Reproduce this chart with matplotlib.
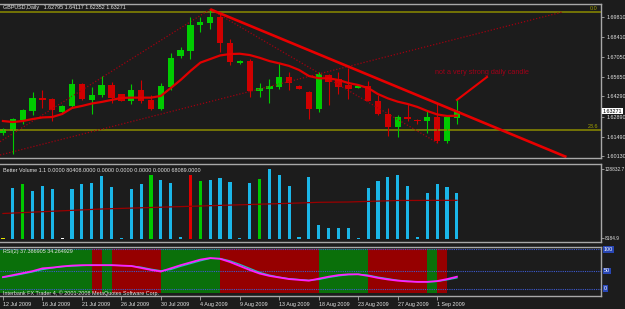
import numpy as np
import matplotlib
matplotlib.use("Agg")
import matplotlib.pyplot as plt

plt.rcParams['font.family'] = ['Liberation Sans', 'DejaVu Sans']

# ---- data (GBPUSD daily, 12 Jul - 3 Sep 2009) ----
date_labels = ["12 Jul 2009", "16 Jul 2009", "21 Jul 2009", "26 Jul 2009",
               "30 Jul 2009", "4 Aug 2009", "9 Aug 2009", "13 Aug 2009",
               "18 Aug 2009", "23 Aug 2009", "27 Aug 2009", "1 Sep 2009"]

opens = [1.6175, 1.6191, 1.6265, 1.6330, 1.6421, 1.6410, 1.6323, 1.6363, 1.6516, 1.6405,
         1.6437, 1.6507, 1.6444, 1.6398, 1.6474, 1.6405, 1.6342, 1.6493, 1.6711, 1.6748,
         1.6925, 1.6943, 1.6981, 1.6802, 1.6660, 1.6676, 1.6469, 1.6481, 1.6497, 1.6563,
         1.6502, 1.6462, 1.6342, 1.6577, 1.6549, 1.6506, 1.6490, 1.6502, 1.6400, 1.6305,
         1.6218, 1.6284, 1.6265, 1.6260, 1.6284, 1.6119, 1.62795]
highs = [1.6209, 1.6279, 1.6342, 1.6458, 1.6474, 1.6419, 1.6370, 1.6551, 1.6525, 1.6493,
         1.6574, 1.6532, 1.6446, 1.6514, 1.6544, 1.6440, 1.6521, 1.6730, 1.6776, 1.6981,
         1.6985, 1.7037, 1.7009, 1.6828, 1.6683, 1.6690, 1.6521, 1.6551, 1.6660, 1.6602,
         1.6506, 1.6467, 1.6602, 1.6586, 1.6602, 1.6626, 1.6516, 1.6539, 1.6440, 1.6351,
         1.6300, 1.6375, 1.6269, 1.6328, 1.6382, 1.6300, 1.64117]
lows = [1.6161, 1.6028, 1.6237, 1.6300, 1.6351, 1.6260, 1.6317, 1.6359, 1.6405, 1.6307,
        1.6428, 1.6384, 1.6398, 1.6377, 1.6386, 1.6335, 1.6338, 1.6474, 1.6695, 1.6688,
        1.6881, 1.6897, 1.6741, 1.6649, 1.6656, 1.6428, 1.6428, 1.6382, 1.6479, 1.6474,
        1.6481, 1.6270, 1.6323, 1.6370, 1.6447, 1.6411, 1.6485, 1.6398, 1.6300, 1.6156,
        1.6149, 1.6260, 1.6237, 1.6177, 1.6107, 1.6107, 1.62352]
closes = [1.6199, 1.6272, 1.6335, 1.6416, 1.6405, 1.6335, 1.6363, 1.6516, 1.6410, 1.6440,
          1.6507, 1.6416, 1.6401, 1.6474, 1.6398, 1.6342, 1.6502, 1.6699, 1.6753, 1.6927,
          1.6948, 1.6985, 1.6800, 1.6672, 1.6676, 1.6467, 1.6486, 1.6502, 1.6563, 1.6521,
          1.6483, 1.6342, 1.6586, 1.6532, 1.6493, 1.6479, 1.6502, 1.6400, 1.6305, 1.6218,
          1.6284, 1.6270, 1.6256, 1.6284, 1.6119, 1.6284, 1.63271]
ma_price = [1.6258, 1.6251, 1.6258, 1.6272, 1.6283, 1.6286, 1.6307, 1.6349, 1.6363, 1.6380,
            1.6391, 1.6405, 1.6419, 1.6421, 1.6421, 1.6421, 1.6433, 1.6488, 1.6544, 1.6607,
            1.6665, 1.6690, 1.6715, 1.6725, 1.6727, 1.6718, 1.6699, 1.6676, 1.6660, 1.6642,
            1.6614, 1.6572, 1.6556, 1.6556, 1.6544, 1.6523, 1.6509, 1.6488, 1.6446, 1.6416,
            1.6393, 1.6377, 1.6356, 1.6328, 1.6304, 1.6293, 1.6295]

price_ticks = [1.69810, 1.68410, 1.67050, 1.65650, 1.64290, 1.62890, 1.61490, 1.60130]
fib_levels = [1.7018, 1.6196]
fib_names = ["0.0", "23.6"]

# trend line, arrow and dotted channel lines: (bar, price) end points
trend_line = ([21, 57.1], [1.7037, 1.6007])
arrow_line = ([46, 49.05], [1.6405, 1.6565])
dotted_lines = [([-0.3, 21], [1.6114, 1.7037]),
                ([21, 44], [1.7037, 1.6107]),
                ([-0.3, 56.7], [1.6021, 1.7018])]

volume = [2290, 89230, 96800, 84480, 93280, 88000, 2290, 88000, 96800, 98030,
          110880, 92050, 2290, 88000, 96800, 112640, 103840, 99090, 4050, 112640,
          102080, 103840, 107890, 99790, 2290, 98030, 105070, 122670, 112640, 93280,
          2990, 109650, 24640, 19890, 18830, 18830, 2290, 90290, 102610, 108590,
          112640, 93280, 4050, 81490, 96800, 90990, 80408]
vol_kind = ['y', 'c', 'g', 'c', 'c', 'c', 'w', 'c', 'c', 'c',
            'c', 'c', 'c', 'c', 'c', 'g', 'c', 'c', 'c', 'r',
            'g', 'c', 'c', 'c', 'c', 'c', 'g', 'c', 'c', 'c',
            'c', 'c', 'c', 'c', 'c', 'c', 'c', 'c', 'c', 'c',
            'c', 'c', 'c', 'c', 'c', 'c', 'c']
vol_ma_bars = [0, 10, 15, 20, 25, 30, 32, 35, 40, 46]
vol_ma = [44880, 52800, 55440, 58080, 60720, 63360, 64590, 65120, 67760, 68089]

rsi_main = [30, 35, 40, 45, 52, 54, 57, 59, 60, 60, 60, 60, 59, 58, 53, 48, 44, 52, 60, 67,
            74, 78, 76, 68, 58, 48, 39, 33, 29, 25, 23, 21, 26, 31, 35, 37, 37, 33, 28, 24,
            21, 19, 18, 18, 20, 25, 31]
rsi_signal = [29, 33, 38, 43, 49, 53, 56, 58, 59, 60, 60, 60, 59, 58, 55, 50, 46, 49, 57, 64,
              71, 77, 77, 71, 62, 52, 42, 35, 30, 26, 24, 22, 24, 29, 33, 36, 37, 35, 30, 26,
              22, 20, 18, 18, 19, 23, 28]
# zone colour between bar i and bar i+1
rsi_zone = (['g'] * 9 + ['r'] + ['g'] + ['r'] * 5 + ['g'] * 6 + ['r'] * 10 +
            ['g'] * 5 + ['r'] * 6 + ['g'] + ['r'])
rsi_levels = [100, 46, 0]

# ---- style ----
BG = '#1c1c1c'
FG = '#e4e4e4'
GRID = '#a8a8a8'
W, H = 625, 309
XMIN, XMAX = -0.3, 60.6
FS = 3.9


def fx(px):
    return px / W


def fy(py):
    return 1 - py / H


fig = plt.figure(figsize=(W / 100, H / 100), dpi=100, facecolor=BG)
ax_p = fig.add_axes([0, fy(158), fx(601), (158 - 4) / H])
ax_v = fig.add_axes([0, fy(242), fx(601), (242 - 164) / H])
ax_r = fig.add_axes([0, fy(296), fx(601), (296 - 247) / H])

for ax in (ax_p, ax_v, ax_r):
    ax.set_facecolor(BG)
    ax.set_xlim(XMIN, XMAX)
    ax.spines['left'].set_visible(False)
    for s in ('top', 'right', 'bottom'):
        ax.spines[s].set_color(GRID)
        ax.spines[s].set_linewidth(1.0)
    ax.tick_params(axis='x', bottom=False, labelbottom=False)
    ax.yaxis.tick_right()
    ax.tick_params(axis='y', colors=GRID, labelcolor=FG, labelsize=FS,
                   length=2.5, width=0.6, pad=1.2)

x = np.arange(len(opens))

# ---- price panel ----
ax_p.set_ylim(1.60003, 1.70737)
for lvl in fib_levels:
    ax_p.axhline(lvl, color='#8c8c00', lw=1.1)
for xs, ys in dotted_lines:
    ax_p.plot(xs, ys, color='#a00010', lw=0.9, ls=(0, (1, 1.5)))

cols = ['#00cc00' if c >= o else '#d00000' for o, c in zip(opens, closes)]
ax_p.vlines(x, lows, highs, colors=cols, lw=0.8)
body_lo = np.minimum(opens, closes)
body_h = np.maximum(np.abs(np.array(closes) - np.array(opens)), 0.0003)
ax_p.bar(x, body_h, bottom=body_lo, width=0.64, color=cols, lw=0)

ax_p.plot(x, ma_price, color='#e00000', lw=1.6)
ax_p.plot(*trend_line, color='#e80000', lw=1.9, solid_capstyle='butt')
ax_p.plot(*arrow_line, color='#e80000', lw=1.5)
ax_p.set_yticks(price_ticks)
ax_p.set_yticklabels([f"{t:.5f}" for t in price_ticks])

# ---- volume panel ----
ax_v.set_ylim(-5280, 132000)
vcol = {'c': '#1ab6e8', 'g': '#00c800', 'r': '#e00000', 'y': '#e6e600', 'w': '#ffffff'}
ax_v.bar(x, volume, width=0.32, color=[vcol[k] for k in vol_kind], lw=0)
ax_v.plot(vol_ma_bars, vol_ma, color='#9a0000', lw=0.9)
ax_v.set_yticks([123200, 1760])
ax_v.set_yticklabels(["128832.7", "8184.9"])
ax_v.tick_params(axis='y', labelsize=3.4, length=2, pad=0.5)

# ---- RSI panel ----
ax_r.set_ylim(-17.6, 105.8)
zc = {'g': '#0a700a', 'r': '#960000'}
for i, z in enumerate(rsi_zone):
    left = XMIN if i == 0 else i
    ax_r.bar(left, 110.8, bottom=-10.8, width=i + 1 - left, align='edge',
             color=zc[z], lw=0)
for lvl in rsi_levels:
    ax_r.axhline(lvl, color='#3c5ad2', lw=0.8, ls=(0, (1, 1)))
ax_r.plot(x, rsi_signal, color='#20c0c0', lw=0.9)
ax_r.plot(x, rsi_main, color='#ff20ff', lw=1.3)
ax_r.set_yticks([])
ax_r.tick_params(axis='x', bottom=True, labelbottom=True, colors=GRID,
                 labelcolor=FG, labelsize=FS, length=3, width=0.6, pad=1.5)
ax_r.set_xticks(np.arange(0, 48, 4))
ax_r.set_xticklabels(date_labels, ha='left')

# ---- texts ----
fig.text(fx(3), fy(7), "GBPUSD,Daily   1.62795 1.64117 1.62352 1.63271",
         color=FG, fontsize=FS, va='center')
fig.text(fx(3), fy(171), "Better Volume 1.1 0.0000 80408.0000 0.0000 0.0000 0.0000 0.0000 68089.0000",
         color=FG, fontsize=FS, va='center')
fig.text(fx(3), fy(251), "RSI(2) 37.386905 34.264929", color=FG, fontsize=FS, va='center')
fig.text(fx(3), fy(293), "Interbank FX Trader 4, \u00a9 2001-2008 MetaQuotes Software Corp.",
         color=FG, fontsize=FS, va='center')
fig.text(fx(598), fy(8), fib_names[0], color='#a0a000', fontsize=FS, va='center', ha='right')
fig.text(fx(598), fy(126), fib_names[1], color='#a0a000', fontsize=FS, va='center', ha='right')
fig.text(fx(435), fy(72), "not a very strong daily candle", color='#a00018',
         fontsize=5.2, va='center')
fig.text(fx(603), fy(111), "1.63271", color='black', fontsize=FS, va='center',
         bbox=dict(facecolor='white', edgecolor='none', pad=0.6))
for lbl, py in zip(["100", "50", "0"], [249.5, 271, 288.5]):
    fig.text(fx(604), fy(py), lbl, color='white', fontsize=FS, va='center',
             bbox=dict(facecolor='#2846b4', edgecolor='none', pad=0.5))

fig.savefig("out.png", dpi=100, facecolor=BG)
